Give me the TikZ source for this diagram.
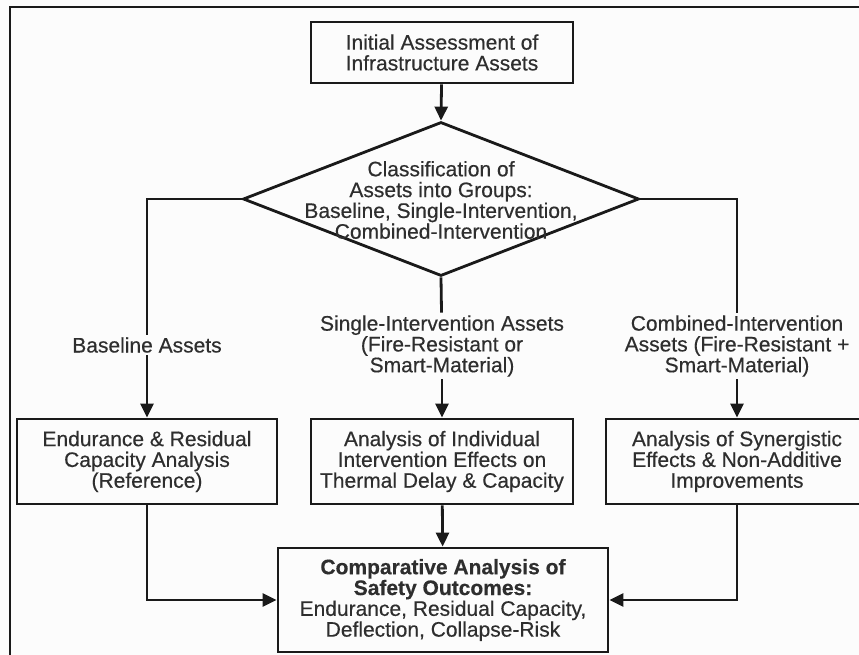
\documentclass[tikz,border=0pt]{standalone}
\usepackage{fontspec}
\setmainfont{Liberation Sans}[FakeBold=0.4]
\usetikzlibrary{arrows.meta,shapes.geometric}
\definecolor{ink}{HTML}{1A1A1A}
\definecolor{txt}{HTML}{2E2E2E}
\definecolor{paper}{HTML}{FCFCFC}
\begin{document}
\begin{tikzpicture}[x=1pt,y=-1pt,
  font=\fontsize{21pt}{20.8pt}\selectfont,
  box/.style={draw=ink, line width=2.8pt, fill=paper, text=txt, align=center,
    inner sep=0pt, minimum height=85pt},
  lbl/.style={text=txt, align=center, inner sep=2.5pt, fill=paper},
  flow/.style={draw=ink, line width=2.8pt},
  arr/.style={flow, -{Triangle[length=14pt,width=13pt]}}]
  % page and outer frame
  \useasboundingbox (0,0) rectangle (859,655);
  \clip (0,0) rectangle (859,655);
  \fill[paper] (0,0) rectangle (859,655);
  \draw[ink, line width=2.2pt] (10,700) -- (10,7) -- (900,7);

  % nodes
  \node[box, minimum width=262pt, minimum height=61pt] (init) at (442,52.5)
    {Initial Assessment of\\Infrastructure Assets};
  \node[draw=ink, line width=2.8pt, shape=diamond, minimum width=396pt,
    minimum height=154pt, inner sep=0pt] (cls) at (441,199) {};
  \node[text=txt, align=center] (clstext) at (441,200)
    {Classification of\\Assets into Groups:\\Baseline, Single-Intervention,\\Combined-Intervention};

  \node[lbl] (lblA) at (147,345) {Baseline Assets};
  \node[lbl] (lblB) at (442,346) {Single-Intervention Assets\\(Fire-Resistant or\\Smart-Material)};
  \node[lbl] (lblC) at (737,346) {Combined-Intervention\\Assets (Fire-Resistant +\\Smart-Material)};

  \node[box, minimum width=260pt] (base) at (147,461.5)
    {Endurance \& Residual\\Capacity Analysis\\(Reference)};
  \node[box, minimum width=262pt] (single) at (442,461.5)
    {Analysis of Individual\\Intervention Effects on\\Thermal Delay \& Capacity};
  \node[box, minimum width=262pt] (comb) at (737,461.5)
    {Analysis of Synergistic\\Effects \& Non-Additive\\Improvements};

  \node[box, minimum width=330pt, minimum height=104pt] (comp) at (443,600)
    {\textbf{Comparative Analysis of}\\\textbf{Safety Outcomes:}\\Endurance, Residual Capacity,\\Deflection, Collapse-Risk};

  % connectors
  \draw[arr] (init) -- (cls.north);
  \draw[flow] (cls.west) -| (lblA);
  \draw[arr] (lblA) -- (base);
  \draw[flow] (cls.south) -- (lblB);
  \draw[arr] (lblB) -- (single);
  \draw[flow] (cls.east) -| (lblC);
  \draw[arr] (lblC) -- (comb);
  \draw[arr] (base.south) |- (comp.west);
  \draw[arr] (single) -- (comp);
  \draw[arr] (comb.south) |- (comp.east);
\end{tikzpicture}
\end{document}
